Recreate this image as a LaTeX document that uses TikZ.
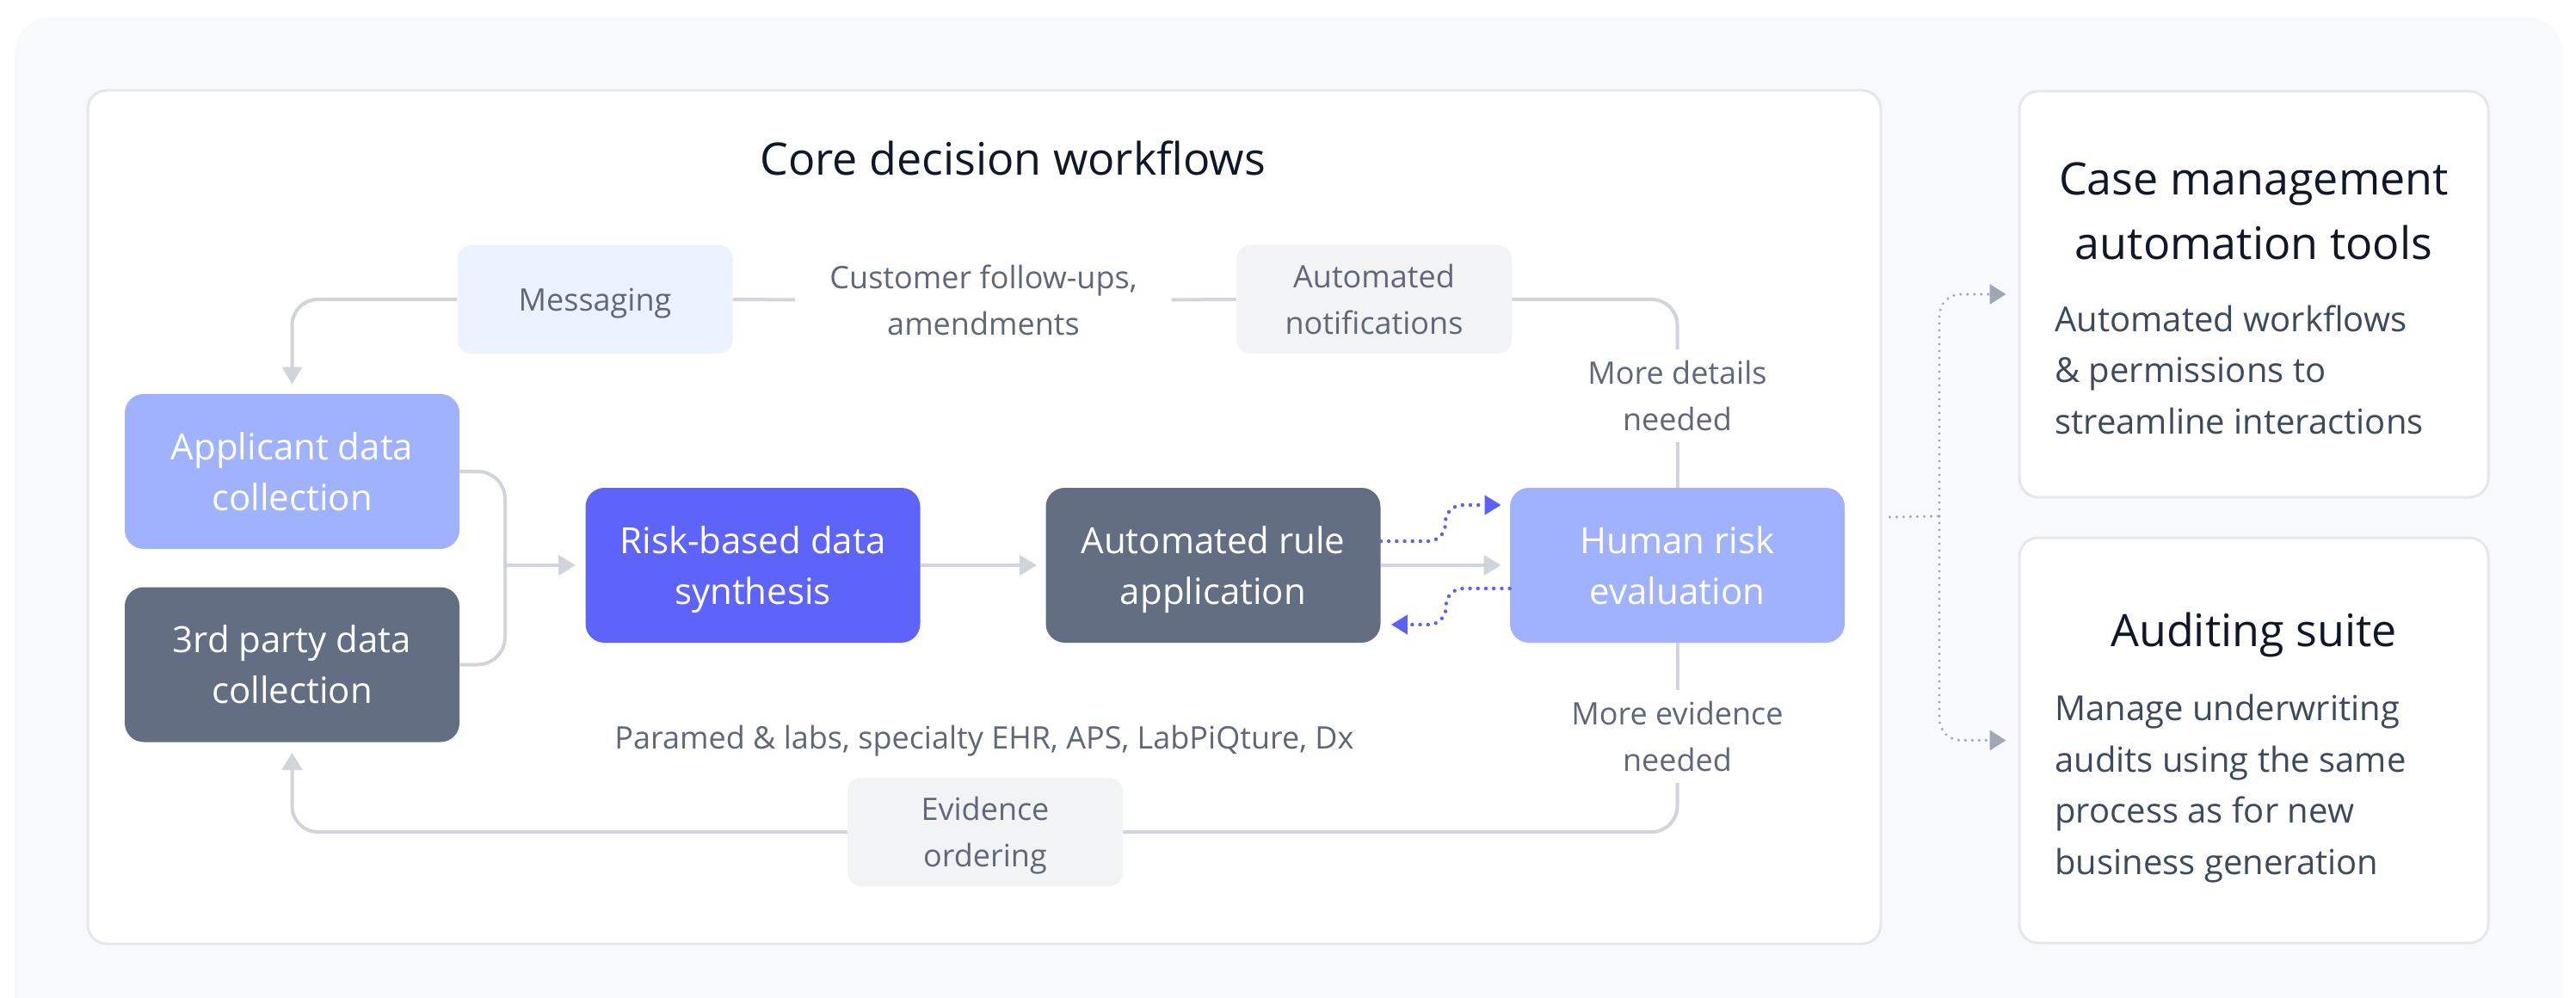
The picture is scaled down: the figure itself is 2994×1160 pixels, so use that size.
\documentclass[tikz,border=0pt]{standalone}
\usepackage{fontspec}
\setmainfont{Open Sans}
\usetikzlibrary{arrows.meta}
\definecolor{bgc}{HTML}{F8F9FB}
\definecolor{panelb}{HTML}{E5E7EB}
\definecolor{connc}{HTML}{D1D5DB}
\definecolor{peri}{HTML}{A0B2FD}
\definecolor{indigo}{HTML}{5E63FA}
\definecolor{slate}{HTML}{646E82}
\definecolor{msgc}{HTML}{EBF3FE}
\definecolor{lgray}{HTML}{F2F3F5}
\definecolor{lblc}{HTML}{5F6779}
\definecolor{darkc}{HTML}{101828}
\definecolor{bodyc}{HTML}{3D4A5C}
\definecolor{bluec}{HTML}{5B63F7}
\definecolor{gdotc}{HTML}{A0A6B4}
\newcommand\nodepth[1]{\raisebox{0pt}[\height][0pt]{#1}}
\begin{document}
\begin{tikzpicture}[x=0.5pt,y=-0.5pt,
  panel/.style={draw=panelb, line width=1.5pt, fill=white, rounded corners=11pt, inner sep=0pt},
  mainbox/.style={rounded corners=11pt, minimum width=194.5pt, minimum height=90pt, align=center, text=white, font=\fontsize{21pt}{29.5pt}\selectfont, inner sep=0pt},
  smallbox/.style={rounded corners=8pt, minimum width=160pt, minimum height=63pt, align=center, text=lblc, font=\fontsize{18pt}{27pt}\selectfont, inner sep=0pt},
  lbl/.style={align=center, text=lblc, font=\fontsize{18pt}{27pt}\selectfont, inner sep=0pt},
  conn/.style={draw=connc, line width=2pt},
  tip/.style={-{Triangle[length=10pt,width=11.5pt]}},
  bdot/.style={draw=bluec, line width=2.2pt, line cap=round, dash pattern=on 0pt off 4.6pt, -{Triangle[length=9.5pt,width=11pt,fill=bluec]}},
  gdot/.style={draw=gdotc, line width=1.7pt, line cap=round, dash pattern=on 0pt off 4pt},
  ctitle/.style={align=center, text=darkc, font=\fontsize{26pt}{37.5pt}\selectfont, inner sep=0pt},
  cbody/.style={align=left, text=bodyc, font=\fontsize{20pt}{29.75pt}\selectfont, inner sep=0pt}
]
\useasboundingbox (0,0) rectangle (2994,1160);
\begin{scope}
\clip (0,0) rectangle (2994,1160);
\fill[bgc, rounded corners=21pt] (17,20) rectangle (2979,1300);
\end{scope}

% panels
\node[panel, minimum width=1042pt, minimum height=496pt] (core) at (1144,601) {};
\node[panel, minimum width=272.5pt, minimum height=236pt] (card1) at (2619.5,342) {};
\node[panel, minimum width=272.5pt, minimum height=235.5pt] (card2) at (2619.5,860.5) {};

% title
\node[anchor=base, text=darkc, font=\fontsize{26pt}{30pt}\selectfont, inner sep=0pt] (title) at (1177,204) {Core decision workflows};

% main boxes
\node[mainbox, fill=peri] (app) at (339.5,548) {Applicant data\\\nodepth{collection}};
\node[mainbox, fill=slate] (third) at (339.5,772.5) {3rd party data\\\nodepth{collection}};
\node[mainbox, fill=indigo] (risk) at (875,657) {Risk-based data\\\nodepth{synthesis}};
\node[mainbox, fill=slate] (auto) at (1410,657) {Automated rule\\\nodepth{application}};
\node[mainbox, fill=peri] (human) at (1949.5,657) {Human risk\\\nodepth{evaluation}};

% small boxes
\node[smallbox, fill=msgc] (msg) at (691.5,348) {\nodepth{Messaging}};
\node[smallbox, fill=lgray] (notif) at (1597,348) {Automated\\\nodepth{notifications}};
\node[smallbox, fill=lgray] (evid) at (1145,967) {Evidence\\\nodepth{ordering}};

% labels
\node[lbl, inner xsep=20pt] (cust) at (1143,348.5) {Customer follow-ups,\\\nodepth{amendments}};
\node[lbl, inner ysep=6.5pt] (det) at (1949.5,460) {More details\\\nodepth{needed}};
\node[lbl, inner ysep=6.5pt] (evl) at (1949.5,856) {More evidence\\\nodepth{needed}};
\node[lbl] (para) at (1144,857) {\nodepth{Paramed \& labs, specialty EHR, APS, LabPiQture, Dx}};

% top loop
\draw[conn, tip, shorten >=5.5pt, rounded corners=15pt] (msg.west) -| (app.north);
\draw[conn] (msg.east) -- (cust.west);
\draw[conn] (cust.east) -- (notif.west);
\draw[conn, rounded corners=15pt] (notif.east) -| (det.north);
\draw[conn] (det.south) -- (human.north);

% bracket
\coordinate (bj) at (587,657);
\draw[conn, rounded corners=16pt] (app.east) -| (bj) |- (third.east);
\draw[conn, tip, shorten >=5.5pt] (bj) -- (risk.west);
\draw[conn, tip, shorten >=5pt] (risk.east) -- (auto.west);
\draw[conn, tip, shorten >=5pt] (auto.east) -- (human.west);

% blue dotted
\draw[bdot, rounded corners=10pt, shorten >=5pt] ([yshift=14pt]auto.east) -- ++(37.5pt,0) |- ([yshift=35pt]human.west);
\draw[bdot, rounded corners=10pt, shorten >=6pt] ([yshift=-13.5pt]human.west) -- ++(-37pt,0) |- ([yshift=-34.5pt]auto.east);

% bottom loop
\draw[conn] (human.south) -- (evl.north);
\draw[conn, rounded corners=15pt] (evl.south) |- (evid.east);
\draw[conn, tip, shorten >=6pt, rounded corners=15pt] (evid.west) -| (third.south);

% gray dotted to cards
\coordinate (jn) at (2254,600);
\draw[gdot] ([xshift=4.5pt]core.east) -- (jn);
\draw[gdot, rounded corners=12.5pt, shorten >=7pt, -{Triangle[length=9.5pt,width=11.5pt,fill=gdotc]}] (jn) |- (card1.west);
\draw[gdot, rounded corners=12.5pt, shorten >=7pt, -{Triangle[length=9.5pt,width=11.5pt,fill=gdotc]}] (jn) |- (card2.west);

% cards text
\node[ctitle] (c1t) at (2619.5,245) {Case management\\automation tools};
\node[cbody, anchor=west] (c1b) at (2388,429.5) {Automated workflows\\\& permissions to\\streamline interactions};
\node[ctitle, anchor=base] (c2t) at (2619.5,751) {Auditing suite};
\node[cbody, anchor=west] (c2b) at (2388,916.5) {Manage underwriting\\audits using the same\\process as for new\\business generation};
\end{tikzpicture}
\end{document}
